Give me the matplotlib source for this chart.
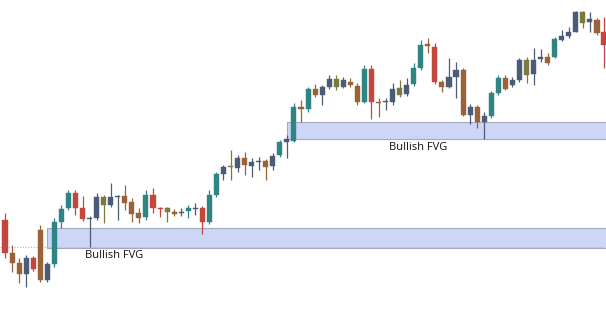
import matplotlib
matplotlib.use('Agg')
import matplotlib.pyplot as plt
from matplotlib.patches import Rectangle

# candle prices (arbitrary units)
opens = [98, 65, 55, 44, 60, 88, 38, 54, 96, 110, 125, 110, 100, 100, 113, 113, 122, 122, 116, 105,
         101, 123, 110, 106, 106, 105, 107, 110, 110, 96, 123, 144, 151, 150, 160, 152, 157, 157, 152, 163,
         176, 177, 211, 209, 229, 223, 231, 239, 231, 236, 232, 216, 249, 216, 216, 216, 223, 224, 234, 250,
         274, 271, 236, 231, 241, 248, 203, 211, 196, 202, 225, 240, 233, 238, 258, 244, 259, 261, 261, 278,
         282, 286, 306, 296, 298, 286]
closes = [65, 55, 44, 60, 49, 38, 54, 96, 109, 125, 110, 99, 99.5, 121, 121, 121, 121, 115, 104, 100,
          123, 110, 109.5, 110, 104, 106, 110, 109.5, 96, 123, 144, 151, 151.5, 160, 153, 156, 156.5, 151, 162, 176,
          179, 211, 209, 229, 223, 231, 239, 231, 238, 233, 216, 249, 216, 215.5, 216.5, 229, 230, 233, 250, 273,
          272, 236, 231, 241, 248, 203, 211, 196, 202, 225, 240, 229, 238, 258, 243, 258, 261, 255, 279, 282,
          286, 306, 295, 299, 285, 273]
highs = [105, 73, 60, 63, 62, 93, 56, 100, 113, 128, 128, 122, 102, 125, 123, 135, 123, 133, 120, 110,
         128, 130, 111, 111, 109, 110, 113, 115, 112, 128, 146, 153, 168, 163, 166, 160, 161, 159, 165, 178,
         183, 215, 218, 231, 234, 233, 243, 243, 241, 240, 235, 253, 253, 220, 220, 235, 238, 240, 255, 278,
         280, 275, 238, 260, 256, 250, 214, 213, 206, 227, 243, 243, 241, 260, 261, 270, 269, 265, 281, 288,
         291, 307, 307, 306, 300, 301]
lows = [60, 46, 35, 31, 47, 36, 36, 51, 90, 108, 103, 97, 71, 98, 95, 111, 98, 108, 96, 95,
        98, 105, 101, 96, 102, 102, 100, 103, 84, 94, 121, 138, 138, 146, 143, 141, 148, 138, 148, 161,
        160, 176, 196, 206, 221, 213, 229, 228, 230, 231, 213, 215, 199, 201, 208, 213, 221, 222, 232, 248,
        265, 234, 226, 230, 220, 202, 194, 190, 179, 200, 223, 228, 231, 236, 235, 233, 256, 253, 260, 277,
        280, 286, 290, 286, 283, 250]

# candle colour codes as seen in the picture, ten per group
shade = "".join(["rbbsrbsttt", "rrssossbbb", "trrobstsrt", "tsosbssbst", "stbtbssosb",
                 "btrbssostt", "brbssbsbst", "tbssossbts", "ssosbr"])

# fair value gaps: (first candle, low, high)
gaps = [(6, 70, 90), (40, 179, 196)]
labels = ["Bullish FVG", "Bullish FVG"]
label_pos = [(15.5, 63), (58.6, 170.5)]

palette = {'t': '#2f8585', 'r': '#c4473d', 'b': '#9a6238', 'o': '#7a7a3c', 's': '#4a5c78'}

fig = plt.figure(figsize=(6.06, 3.18), dpi=100)
ax = fig.add_axes([0, 0, 1, 1])
ax.set_axis_off()
n = len(opens)
ax.set_xlim(-0.71, 85.28)
ax.set_ylim(0, 318)

for (start, lo, hi), txt, (lx, ly) in zip(gaps, labels, label_pos):
    ax.add_patch(Rectangle((start, lo), 90 - start, hi - lo, facecolor='#cdd6f7',
                           edgecolor='#a3aabb', lw=0.8, zorder=1))
    ax.text(lx, ly, txt, ha='center', va='center', fontsize=8, family='Open Sans',
            color='#111111', zorder=4)

# dotted line along lower gap
ax.axhline(71, color='#d8a3b4', lw=0.8, ls=(0, (1, 1.5)), zorder=1.5)

for i in range(n):
    c = palette[shade[i]]
    ax.vlines(i, lows[i], highs[i], color=c, lw=0.9, zorder=2)
    lo = min(opens[i], closes[i])
    h = abs(closes[i] - opens[i])
    if h < 1.2:
        h = 1.2
        lo = (opens[i] + closes[i]) / 2 - 0.6
    ax.add_patch(Rectangle((i - 0.36, lo), 0.72, h, facecolor=c, edgecolor=c, lw=0.3, zorder=3))

fig.savefig('out.png', dpi=100, facecolor='white')
